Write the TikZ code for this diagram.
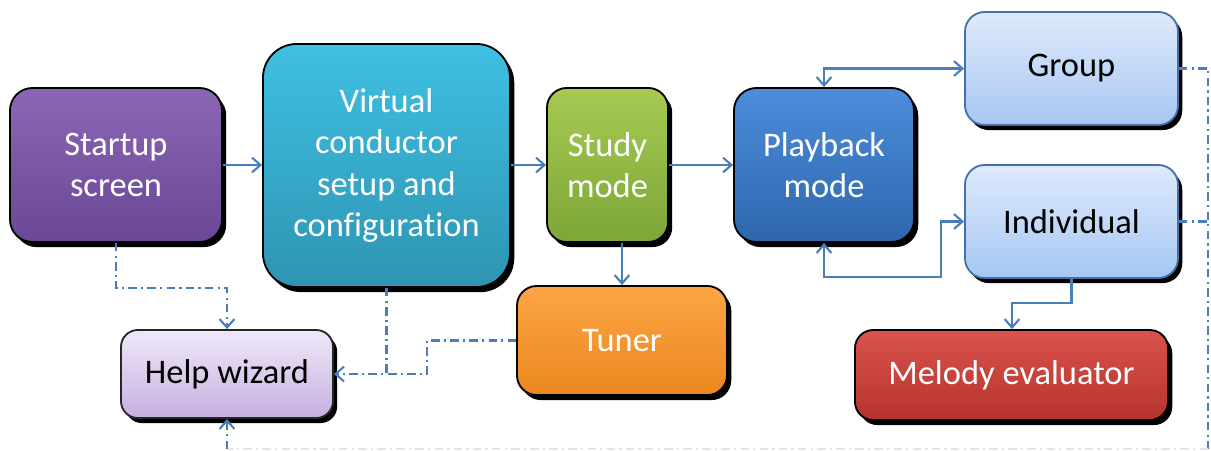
\documentclass[tikz,border=0pt]{standalone}
\usepackage{fontspec}
\setmainfont{Carlito}[Ligatures=NoCommon]
\usetikzlibrary{arrows.meta,shadows}

\definecolor{link}{HTML}{4A7EBB}
\definecolor{linkfaint}{HTML}{DCE6F3}
\definecolor{suTop}{HTML}{8B66B6}\definecolor{suBot}{HTML}{6A4895}
\definecolor{vcTop}{HTML}{3FC0E2}\definecolor{vcBot}{HTML}{2E94B2}
\definecolor{stTop}{HTML}{A6CA52}\definecolor{stBot}{HTML}{7DA638}
\definecolor{pbTop}{HTML}{4C8DDA}\definecolor{pbBot}{HTML}{2E66AE}
\definecolor{gTop}{HTML}{DFEAFC}\definecolor{gBot}{HTML}{A6C7F3}
\definecolor{tuTop}{HTML}{FCA544}\definecolor{tuBot}{HTML}{EC8720}
\definecolor{hwTop}{HTML}{EFE8F8}\definecolor{hwBot}{HTML}{C6B0DF}
\definecolor{meTop}{HTML}{DA534D}\definecolor{meBot}{HTML}{B5332E}

\tikzset{
  block/.style={draw=black, line width=1.3pt, inner sep=0pt, align=center,
    text=white, font=\fontsize{24.5}{29.5}\selectfont,
    drop shadow={shadow xshift=3pt, shadow yshift=-3.6pt, opacity=1, fill=black}},
  tint/.style n args={2}{top color=#1, bottom color=#2},
  tipv/.style={-{Straight Barb[length=6pt,width=10.5pt,line width=1.5pt]}},
  tipvv/.style={{Straight Barb[length=6pt,width=10.5pt,line width=1.5pt]}-{Straight Barb[length=6pt,width=10.5pt,line width=1.5pt]}},
  flow/.style={draw=link, line width=1.5pt},
  help/.style={draw=link, line width=1.8pt,
    dash pattern=on 6pt off 3pt on 1.6pt off 3pt},
}

\begin{document}
\begin{tikzpicture}[x=0.025cm, y=-0.025cm]
\useasboundingbox (0,0) rectangle (1211,450);

% ---- blocks ----
\node[block, tint={suTop}{suBot}, rounded corners=16pt,
  minimum width=5.3cm, minimum height=3.85cm] (su) at (116,165) {Startup\\screen};
\node[block, tint={vcTop}{vcBot}, rounded corners=24pt,
  minimum width=6.175cm, minimum height=6.075cm] (vc) at (386.5,165.5)
  {Virtual\\conductor\\setup and\\configuration};
\node[block, tint={stTop}{stBot}, rounded corners=14pt,
  minimum width=3.025cm, minimum height=3.85cm] (st) at (607.5,165) {Study\\mode};
\node[block, tint={pbTop}{pbBot}, rounded corners=16pt,
  minimum width=4.5cm, minimum height=3.85cm] (pb) at (824,165) {Playback\\mode};
\node[block, tint={gTop}{gBot}, draw=link!90!black, text=black, rounded corners=14pt,
  minimum width=5.325cm, minimum height=2.825cm] (grp) at (1071.5,68.5) {Group};
\node[block, tint={gTop}{gBot}, draw=link!90!black, text=black, rounded corners=14pt,
  minimum width=5.325cm, minimum height=2.825cm] (ind) at (1071.5,221.5) {Individual};
\node[block, tint={tuTop}{tuBot}, rounded corners=14pt,
  minimum width=5.25cm, minimum height=2.725cm] (tun) at (622,340.5) {Tuner};
\node[block, tint={hwTop}{hwBot}, draw=black!85, text=black, rounded corners=12pt,
  minimum width=5.3cm, minimum height=2.2cm] (hlp) at (227,374) {Help wizard};
\node[block, tint={meTop}{meBot}, rounded corners=13pt,
  minimum width=7.825cm, minimum height=2.25cm] (mel) at (1011.5,375) {Melody evaluator};

% ---- joints ----
\coordinate (pbj) at (941,277);
\coordinate (imj) at (1012,303);
\coordinate (tj) at (427,374);
\coordinate (rt) at (1208,68.5);
\coordinate (rb) at (1208,449);

% ---- main flow ----
\draw[flow, tipv] (su.east) -- (vc.west |- su.east);
\draw[flow, tipv] (vc.east |- st.west) -- (st.west);
\draw[flow, tipv] (st.east) -- (pb.west);
\draw[flow, tipv] (tun.north |- st.south) -- (tun.north);
\draw[flow, tipvv] (pb.north) |- (grp.west);
\draw[flow, tipvv] (pb.south) |- (pbj) |- (ind.west);
\draw[flow, tipv] (ind.south) |- (imj) -- (imj |- mel.north);

% ---- help links ----
\draw[help, tipv] (su.south) -- ++(0,45) -| (hlp.north);
\draw[help, tipv] (vc.south) |- (hlp.east);
\draw[help] (tun.west) -| (tj) -- (vc.south |- tj);
\draw[help] (grp.east) -- (rt) -- (rb);
\draw[help] (ind.east) -- (ind.east -| rt);
\draw[help, draw=linkfaint] (rb) -- (hlp.south |- rb);
\draw[help, tipv] (hlp.south |- rb) -- (hlp.south);
\end{tikzpicture}
\end{document}
